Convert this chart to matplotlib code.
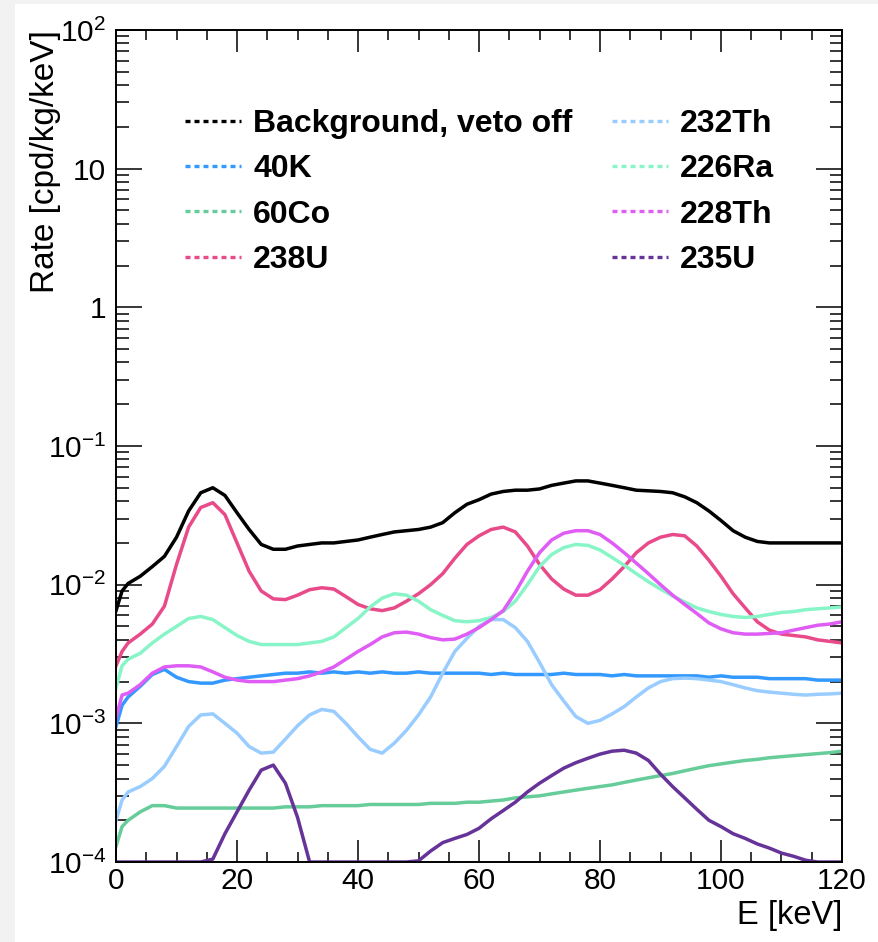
import numpy as np
import matplotlib
matplotlib.use("Agg")
import matplotlib.pyplot as plt
from matplotlib.lines import Line2D
from matplotlib.patches import Rectangle
from matplotlib.ticker import MultipleLocator, LogLocator, FixedLocator, FixedFormatter, NullFormatter

plt.rcParams["font.family"] = ["Liberation Sans", "DejaVu Sans"]
plt.rcParams["mathtext.fontset"] = "custom"
plt.rcParams["mathtext.rm"] = "Liberation Sans"
plt.rcParams["mathtext.it"] = "Liberation Sans:italic"
plt.rcParams["mathtext.bf"] = "Liberation Sans:bold"

# energy grid [keV] the values were read at
energy = [0, 1, 2, 4, 6, 8, 10, 12, 14, 16,
          18, 20, 22, 24, 26, 28, 30, 32, 34, 36,
          38, 40, 42, 44, 46, 48, 50, 52, 54, 56,
          58, 60, 62, 64, 66, 68, 70, 72, 74, 76,
          78, 80, 82, 84, 86, 88, 90, 92, 94, 96,
          98, 100, 102, 104, 106, 108, 110, 112, 114, 116,
          118, 120]

# rates [cpd/kg/keV]
background = [6.5e-3, 9.0e-3, 1.02e-2, 1.15e-2, 1.35e-2, 1.6e-2, 2.2e-2, 3.4e-2, 4.6e-2, 5.0e-2,
              4.4e-2, 3.3e-2, 2.5e-2, 1.95e-2, 1.8e-2, 1.8e-2, 1.9e-2, 1.95e-2, 2.0e-2, 2.0e-2,
              2.05e-2, 2.1e-2, 2.2e-2, 2.3e-2, 2.4e-2, 2.45e-2, 2.5e-2, 2.6e-2, 2.8e-2, 3.3e-2,
              3.8e-2, 4.1e-2, 4.5e-2, 4.7e-2, 4.8e-2, 4.8e-2, 4.9e-2, 5.2e-2, 5.4e-2, 5.6e-2,
              5.6e-2, 5.4e-2, 5.2e-2, 5.0e-2, 4.8e-2, 4.75e-2, 4.7e-2, 4.6e-2, 4.3e-2, 3.9e-2,
              3.4e-2, 2.9e-2, 2.45e-2, 2.2e-2, 2.05e-2, 2.0e-2, 2.0e-2, 2.0e-2, 2.0e-2, 2.0e-2,
              2.0e-2, 2.0e-2]
k40 = [9.5e-4, 1.35e-3, 1.55e-3, 1.85e-3, 2.25e-3, 2.45e-3, 2.15e-3, 2.0e-3, 1.95e-3, 1.95e-3,
       2.05e-3, 2.1e-3, 2.15e-3, 2.2e-3, 2.25e-3, 2.3e-3, 2.3e-3, 2.35e-3, 2.3e-3, 2.35e-3,
       2.3e-3, 2.35e-3, 2.3e-3, 2.35e-3, 2.3e-3, 2.3e-3, 2.35e-3, 2.3e-3, 2.3e-3, 2.3e-3,
       2.3e-3, 2.3e-3, 2.25e-3, 2.3e-3, 2.25e-3, 2.25e-3, 2.25e-3, 2.25e-3, 2.3e-3, 2.25e-3,
       2.25e-3, 2.25e-3, 2.2e-3, 2.25e-3, 2.2e-3, 2.2e-3, 2.2e-3, 2.2e-3, 2.2e-3, 2.2e-3,
       2.15e-3, 2.2e-3, 2.15e-3, 2.15e-3, 2.15e-3, 2.1e-3, 2.1e-3, 2.1e-3, 2.1e-3, 2.05e-3,
       2.05e-3, 2.05e-3]
co60 = [1.3e-4, 1.8e-4, 2.0e-4, 2.3e-4, 2.55e-4, 2.55e-4, 2.45e-4, 2.45e-4, 2.45e-4, 2.45e-4,
        2.45e-4, 2.45e-4, 2.45e-4, 2.45e-4, 2.45e-4, 2.5e-4, 2.5e-4, 2.5e-4, 2.55e-4, 2.55e-4,
        2.55e-4, 2.55e-4, 2.6e-4, 2.6e-4, 2.6e-4, 2.6e-4, 2.6e-4, 2.65e-4, 2.65e-4, 2.65e-4,
        2.7e-4, 2.7e-4, 2.75e-4, 2.8e-4, 2.9e-4, 2.95e-4, 3.0e-4, 3.1e-4, 3.2e-4, 3.3e-4,
        3.4e-4, 3.5e-4, 3.6e-4, 3.75e-4, 3.9e-4, 4.05e-4, 4.2e-4, 4.35e-4, 4.55e-4, 4.75e-4,
        4.95e-4, 5.1e-4, 5.25e-4, 5.4e-4, 5.5e-4, 5.65e-4, 5.75e-4, 5.85e-4, 5.95e-4, 6.05e-4,
        6.15e-4, 6.3e-4]
u238 = [2.6e-3, 3.3e-3, 3.8e-3, 4.4e-3, 5.2e-3, 7.0e-3, 1.4e-2, 2.6e-2, 3.6e-2, 3.9e-2,
        3.2e-2, 2.0e-2, 1.25e-2, 9.0e-3, 7.9e-3, 7.8e-3, 8.4e-3, 9.2e-3, 9.5e-3, 9.3e-3,
        8.2e-3, 7.2e-3, 6.7e-3, 6.5e-3, 6.8e-3, 7.6e-3, 8.6e-3, 1.0e-2, 1.2e-2, 1.55e-2,
        1.95e-2, 2.25e-2, 2.5e-2, 2.6e-2, 2.4e-2, 1.9e-2, 1.4e-2, 1.1e-2, 9.3e-3, 8.4e-3,
        8.4e-3, 9.2e-3, 1.1e-2, 1.35e-2, 1.7e-2, 2.0e-2, 2.2e-2, 2.3e-2, 2.25e-2, 1.9e-2,
        1.5e-2, 1.15e-2, 8.6e-3, 6.8e-3, 5.4e-3, 4.7e-3, 4.4e-3, 4.3e-3, 4.2e-3, 4.0e-3,
        3.9e-3, 3.8e-3]
th232 = [2.0e-4, 2.8e-4, 3.2e-4, 3.5e-4, 4.0e-4, 4.9e-4, 6.8e-4, 9.5e-4, 1.15e-3, 1.17e-3,
         1.0e-3, 8.5e-4, 6.8e-4, 6.1e-4, 6.2e-4, 7.7e-4, 9.6e-4, 1.15e-3, 1.26e-3, 1.22e-3,
         1.0e-3, 8.0e-4, 6.5e-4, 6.1e-4, 7.2e-4, 8.9e-4, 1.15e-3, 1.55e-3, 2.3e-3, 3.3e-3,
         4.1e-3, 5.0e-3, 5.6e-3, 5.6e-3, 4.9e-3, 3.9e-3, 2.75e-3, 1.9e-3, 1.45e-3, 1.12e-3,
         1.0e-3, 1.05e-3, 1.17e-3, 1.32e-3, 1.55e-3, 1.8e-3, 2.0e-3, 2.1e-3, 2.12e-3, 2.1e-3,
         2.05e-3, 2.0e-3, 1.9e-3, 1.8e-3, 1.72e-3, 1.68e-3, 1.65e-3, 1.62e-3, 1.6e-3, 1.62e-3,
         1.63e-3, 1.65e-3]
ra226 = [1.8e-3, 2.6e-3, 2.9e-3, 3.2e-3, 3.8e-3, 4.4e-3, 5.0e-3, 5.7e-3, 5.9e-3, 5.6e-3,
         4.9e-3, 4.3e-3, 3.9e-3, 3.7e-3, 3.7e-3, 3.7e-3, 3.7e-3, 3.8e-3, 3.9e-3, 4.2e-3,
         4.9e-3, 5.7e-3, 6.9e-3, 8.0e-3, 8.6e-3, 8.4e-3, 7.6e-3, 6.6e-3, 6.0e-3, 5.5e-3,
         5.4e-3, 5.5e-3, 5.8e-3, 6.4e-3, 7.6e-3, 1.0e-2, 1.35e-2, 1.65e-2, 1.85e-2, 1.95e-2,
         1.92e-2, 1.78e-2, 1.57e-2, 1.38e-2, 1.2e-2, 1.05e-2, 9.3e-3, 8.3e-3, 7.5e-3, 6.8e-3,
         6.4e-3, 6.1e-3, 5.9e-3, 5.8e-3, 5.9e-3, 6.1e-3, 6.3e-3, 6.4e-3, 6.6e-3, 6.7e-3,
         6.8e-3, 6.9e-3]
th228 = [1.1e-3, 1.6e-3, 1.65e-3, 1.9e-3, 2.3e-3, 2.55e-3, 2.6e-3, 2.6e-3, 2.55e-3, 2.35e-3,
         2.15e-3, 2.05e-3, 2.0e-3, 2.0e-3, 2.0e-3, 2.05e-3, 2.1e-3, 2.2e-3, 2.35e-3, 2.55e-3,
         2.9e-3, 3.3e-3, 3.7e-3, 4.2e-3, 4.5e-3, 4.55e-3, 4.4e-3, 4.15e-3, 4.0e-3, 4.05e-3,
         4.4e-3, 4.9e-3, 5.6e-3, 6.5e-3, 8.8e-3, 1.25e-2, 1.7e-2, 2.1e-2, 2.35e-2, 2.45e-2,
         2.45e-2, 2.3e-2, 2.0e-2, 1.7e-2, 1.43e-2, 1.2e-2, 1.0e-2, 8.4e-3, 7.2e-3, 6.2e-3,
         5.3e-3, 4.8e-3, 4.5e-3, 4.4e-3, 4.4e-3, 4.45e-3, 4.5e-3, 4.7e-3, 4.9e-3, 5.1e-3,
         5.2e-3, 5.4e-3]
u235 = [0, 0, 0, 0, 0, 0, 0, 0, 0, 1.05e-4,
        1.6e-4, 2.3e-4, 3.3e-4, 4.6e-4, 5.0e-4, 3.7e-4, 2.1e-4, 1.0e-4, 0, 0,
        0, 0, 0, 0, 0, 0, 1.02e-4, 1.2e-4, 1.38e-4, 1.48e-4,
        1.58e-4, 1.75e-4, 2.05e-4, 2.35e-4, 2.7e-4, 3.2e-4, 3.7e-4, 4.2e-4, 4.75e-4, 5.2e-4,
        5.6e-4, 6.0e-4, 6.3e-4, 6.4e-4, 6.1e-4, 5.4e-4, 4.3e-4, 3.5e-4, 2.9e-4, 2.4e-4,
        2.0e-4, 1.8e-4, 1.6e-4, 1.48e-4, 1.35e-4, 1.26e-4, 1.16e-4, 1.1e-4, 1.03e-4, 0,
        0, 0]

labels = ["Background, veto off", "40K", "60Co", "238U",
          "232Th", "226Ra", "228Th", "235U"]
series = [background, k40, co60, u238, th232, ra226, th228, u235]
colors = ["#000000", "#3399ff", "#66cc99", "#e84a8a",
          "#99ccff", "#88f5c8", "#df5cf5", "#663399"]

YMIN, YMAX = 1e-4, 1e2

fig = plt.figure(figsize=(8.79, 9.42), dpi=100)
fig.patch.set_facecolor("#f2f2f2")
fig.add_artist(Rectangle((15 / 879, 0), 1, 1 - 4 / 942, transform=fig.transFigure,
                         facecolor="white", edgecolor="none", zorder=-10))

ax = fig.add_axes([0.1320, 0.0849, 0.8259, 0.8833])
ax.set_yscale("log")
ax.set_xlim(0, 120)
ax.set_ylim(YMIN, YMAX)

for vals, c in zip(series, colors):
    v = np.clip(np.asarray(vals, dtype=float), YMIN, None)
    ax.plot(energy, v, color=c, lw=2.5)
    # histogram edge dropping to the floor at the end of the range
    if v[-1] > YMIN:
        ax.vlines(energy[-1], YMIN, v[-1], color=c, lw=2.0, linestyles=(0, (2, 2)))

# ticks, ROOT style
ax.xaxis.set_major_locator(MultipleLocator(20))
ax.xaxis.set_minor_locator(MultipleLocator(5))
ax.yaxis.set_major_locator(FixedLocator([1e-4, 1e-3, 1e-2, 1e-1, 1, 10, 100]))
ax.yaxis.set_major_formatter(FixedFormatter(
    [r"$\mathregular{10^{-4}}$", r"$\mathregular{10^{-3}}$", r"$\mathregular{10^{-2}}$",
     r"$\mathregular{10^{-1}}$", "1", "10", r"$\mathregular{10^{2}}$"]))
ax.yaxis.set_minor_locator(LogLocator(base=10, subs=np.arange(2, 10), numticks=20))
ax.yaxis.set_minor_formatter(NullFormatter())

ax.tick_params(which="both", direction="in", top=True, right=True, width=1.1, colors="black")
ax.tick_params(axis="x", which="major", length=16, pad=3.5, labelsize=21.5)
ax.tick_params(axis="x", which="minor", length=7.5)
ax.tick_params(axis="y", which="major", length=19, pad=7, labelsize=21.5)
ax.tick_params(axis="y", which="minor", length=9)
for s in ax.spines.values():
    s.set_linewidth(1.4)

ax.set_xlabel("E [keV]", fontsize=23.5, loc="right")
ax.xaxis.set_label_coords(1.0, -0.046)
ax.set_ylabel("Rate [cpd/kg/keV]", fontsize=24, loc="top")
ax.yaxis.set_label_coords(-0.076, 1.0)

handles = [Line2D([], [], color=c, lw=2.4, linestyle=(0, (1.5, 1.2))) for c in colors]
common = dict(loc="upper left", frameon=False, prop={"weight": "bold", "size": 23},
              handlelength=1.75, handletextpad=0.38, labelspacing=0.48,
              borderpad=0, borderaxespad=0)
leg1 = ax.legend(handles[:4], labels[:4], bbox_to_anchor=(0.095, 0.905), **common)
ax.add_artist(leg1)
ax.legend(handles[4:], labels[4:], bbox_to_anchor=(0.683, 0.905), **common)

fig.savefig("out.png", dpi=100, facecolor=fig.get_facecolor())
